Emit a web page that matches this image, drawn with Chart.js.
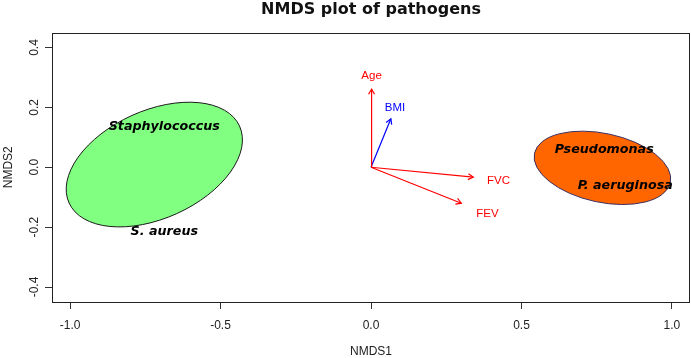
<!DOCTYPE html>
<html>
<head>
<meta charset="utf-8">
<script src="https://cdn.jsdelivr.net/npm/chart.js@4.4.1/dist/chart.umd.min.js"></script>
<style>
  html, body { margin: 0; padding: 0; background: #fff; }
  #wrap { width: 691px; height: 358px; }
</style>
</head>
<body>
<div id="wrap"><canvas id="nmds" width="691" height="358"></canvas></div>
<script>
(function() {
    'use strict';

    // axis ticks
    const xTicks = [-1.0, -0.5, 0.0, 0.5, 1.0];
    const xTickLabels = ['-1.0', '-0.5', '0.0', '0.5', '1.0'];
    const yTicks = [-0.4, -0.2, 0.0, 0.2, 0.4];
    const yTickLabels = ['-0.4', '-0.2', '0.0', '0.2', '0.4'];

    // group ellipses (NMDS space)
    const groupNames = ['Staphylococcus', 'Pseudomonas'];
    const ellipseCx = [-0.720, 0.769];
    const ellipseCy = [0.009, -0.002];
    const ellipseA = [0.311, 0.231];
    const ellipseB = [0.180, 0.115];
    const ellipseAngle = [24.4, -12.2];
    const ellipseFill = ['#80ff80', '#ff6600'];
    const ellipseBorder = ['#1a1a1a', '#3b2f63'];

    // species labels
    const speciesLabels = ['Staphylococcus', 'S. aureus', 'Pseudomonas', 'P. aeruginosa'];
    const speciesX = [-0.687, -0.687, 0.775, 0.845];
    const speciesY = [0.134, -0.216, 0.059, -0.061];

    // environmental vectors
    const arrowNames = ['Age', 'BMI', 'FVC', 'FEV'];
    const arrowX = [0.002, 0.066, 0.340, 0.300];
    const arrowY = [0.261, 0.162, -0.033, -0.120];
    const arrowColors = ['#ff0000', '#0000ff', '#ff0000', '#ff0000'];
    const arrowLabelX = [0.002, 0.080, 0.424, 0.387];
    const arrowLabelY = [0.306, 0.200, -0.044, -0.155];

    const datasets = arrowNames.map(function(name, i) {
        return {
            label: name,
            data: [{ x: 0, y: 0 }, { x: arrowX[i], y: arrowY[i] }],
            showLine: true,
            borderColor: arrowColors[i],
            borderWidth: 1.2,
            pointRadius: 0,
            fill: false
        };
    });

    const rPlot = {
        id: 'rPlot',
        beforeDatasetsDraw: function(chart) {
            const ctx = chart.ctx;
            const xs = chart.scales.x, ys = chart.scales.y;
            const kx = xs.getPixelForValue(1) - xs.getPixelForValue(0);
            const ky = ys.getPixelForValue(0) - ys.getPixelForValue(1);
            groupNames.forEach(function(g, i) {
                ctx.save();
                ctx.translate(xs.getPixelForValue(ellipseCx[i]), ys.getPixelForValue(ellipseCy[i]));
                ctx.scale(kx, -ky);
                ctx.rotate(ellipseAngle[i] * Math.PI / 180);
                ctx.beginPath();
                ctx.ellipse(0, 0, ellipseA[i], ellipseB[i], 0, 0, Math.PI * 2);
                ctx.restore();
                ctx.save();
                ctx.fillStyle = ellipseFill[i];
                ctx.fill();
                ctx.lineWidth = 1;
                ctx.strokeStyle = ellipseBorder[i];
                ctx.stroke();
                ctx.restore();
            });
        },
        afterDatasetsDraw: function(chart) {
            const ctx = chart.ctx;
            const xs = chart.scales.x, ys = chart.scales.y;
            const a = chart.chartArea;

            // arrow heads
            chart.data.datasets.forEach(function(ds, i) {
                const pts = chart.getDatasetMeta(i).data;
                const p0 = pts[0], p1 = pts[1];
                const ang = Math.atan2(p1.y - p0.y, p1.x - p0.x);
                const len = 6, spread = Math.PI / 6;
                ctx.save();
                ctx.strokeStyle = ds.borderColor;
                ctx.lineWidth = 1.2;
                ctx.beginPath();
                ctx.moveTo(p1.x - len * Math.cos(ang - spread), p1.y - len * Math.sin(ang - spread));
                ctx.lineTo(p1.x, p1.y);
                ctx.lineTo(p1.x - len * Math.cos(ang + spread), p1.y - len * Math.sin(ang + spread));
                ctx.stroke();
                ctx.restore();
            });

            ctx.save();
            ctx.textAlign = 'center';
            ctx.textBaseline = 'middle';
            ctx.font = '11.5px "Liberation Sans", Arial, sans-serif';
            arrowNames.forEach(function(n, i) {
                ctx.fillStyle = arrowColors[i];
                ctx.fillText(n, xs.getPixelForValue(arrowLabelX[i]), ys.getPixelForValue(arrowLabelY[i]));
            });
            ctx.font = 'bold italic 12.7px "DejaVu Sans", Verdana, sans-serif';
            ctx.fillStyle = '#000';
            speciesLabels.forEach(function(s, i) {
                ctx.fillText(s, xs.getPixelForValue(speciesX[i]), ys.getPixelForValue(speciesY[i]));
            });

            // plot box
            ctx.strokeStyle = '#222';
            ctx.lineWidth = 1;
            ctx.strokeRect(Math.round(a.left) + 0.5, Math.round(a.top) + 0.5,
                Math.round(a.right - a.left) - 1, Math.round(a.bottom - a.top) - 1);
            ctx.restore();
        }
    };

    const tickFont = { family: '"Liberation Sans", Arial, sans-serif', size: 12 };

    new Chart(document.getElementById('nmds'), {
        type: 'scatter',
        data: { datasets: datasets },
        plugins: [rPlot],
        options: {
            responsive: false,
            animation: false,
            layout: { padding: { left: 0, right: 1, top: 0, bottom: 0 } },
            plugins: {
                legend: { display: false },
                tooltip: { enabled: false },
                title: {
                    display: true,
                    fullSize: false,
                    text: 'NMDS plot of pathogens',
                    color: '#111',
                    font: { family: '"DejaVu Sans", Verdana, sans-serif', size: 16, weight: 'bold', lineHeight: 1.2 },
                    padding: { top: 0, bottom: 13.3 }
                }
            },
            scales: {
                x: {
                    type: 'linear',
                    min: -1.06,
                    max: 1.06,
                    afterBuildTicks: function(scale) {
                        scale.ticks = xTicks.map(function(v) { return { value: v }; });
                    },
                    afterFit: function(scale) { scale.height = 56; },
                    ticks: {
                        color: '#222',
                        font: tickFont,
                        padding: 9,
                        maxRotation: 0,
                        callback: function(v) { return xTickLabels[xTicks.indexOf(v)]; }
                    },
                    grid: { drawOnChartArea: false, drawTicks: true, tickLength: 7, color: '#333' },
                    border: { display: false },
                    title: {
                        display: true,
                        text: 'NMDS1',
                        color: '#222',
                        font: { family: '"Liberation Sans", Arial, sans-serif', size: 12, lineHeight: 1 },
                        padding: 0
                    }
                },
                y: {
                    type: 'linear',
                    min: -0.45,
                    max: 0.45,
                    afterBuildTicks: function(scale) {
                        scale.ticks = yTicks.map(function(v) { return { value: v }; });
                    },
                    afterFit: function(scale) { scale.width = 52; },
                    ticks: {
                        color: '#222',
                        font: tickFont,
                        padding: 0,
                        minRotation: 90,
                        maxRotation: 90,
                        crossAlign: 'center',
                        callback: function(v) { return yTickLabels[yTicks.indexOf(v)]; }
                    },
                    grid: { drawOnChartArea: false, drawTicks: true, tickLength: 7, color: '#333' },
                    border: { display: false },
                    title: {
                        display: true,
                        text: 'NMDS2',
                        color: '#222',
                        font: { family: '"Liberation Sans", Arial, sans-serif', size: 12, lineHeight: 1.2 },
                        padding: { top: 1, bottom: 0 }
                    }
                }
            }
        }
    });
})();
</script>
</body>
</html>
